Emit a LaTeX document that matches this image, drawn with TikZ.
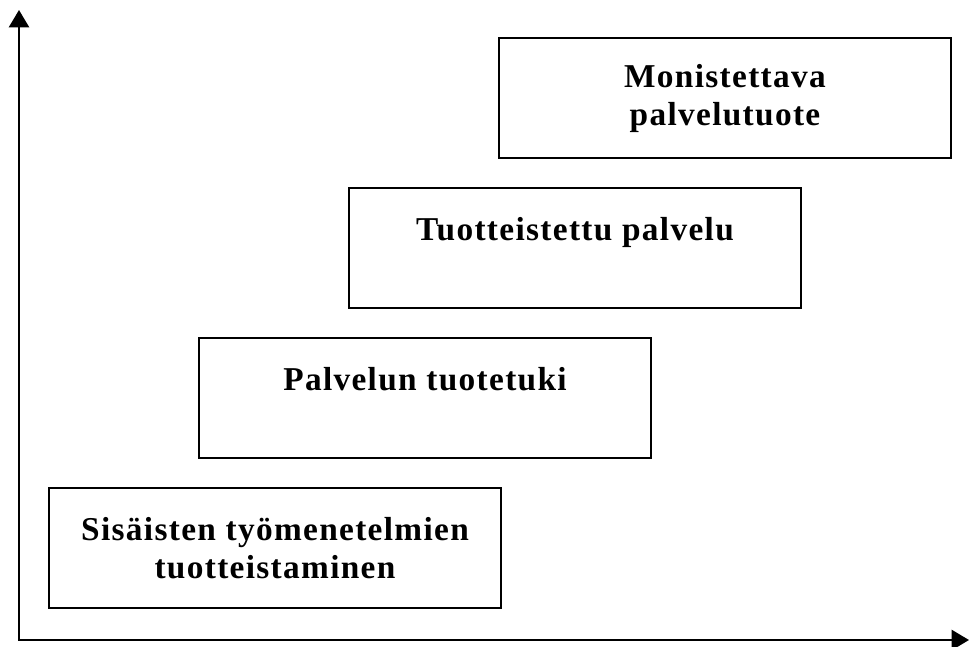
\documentclass[tikz,border=0pt]{standalone}
\usepackage{fontspec}
\setmainfont{Liberation Serif}[LetterSpace=4]
\usetikzlibrary{arrows.meta}

\tikzset{
  stage/.style={draw, line width=1.5pt, minimum width=339pt, minimum height=90pt,
    inner sep=0pt, align=center, font=\bfseries\fontsize{25}{28.5}\selectfont},
  axis/.style={line width=1.8pt, line join=miter,
    {Triangle[length=13pt,width=15pt]}-{Triangle[length=13pt,width=15pt]}}
}

\begin{document}
\begin{tikzpicture}[x=0.75pt,y=0.75pt,yscale=-1,xscale=1]
\useasboundingbox (0,0) rectangle (969,646);

%Axes
\coordinate (ytop) at (19,10);
\coordinate (origin) at (19,640);
\coordinate (xend) at (969,640);
\draw [axis] (ytop) -- (origin) -- (xend);

%Stages
\node [stage] (monistettava) at (725,98) {Monistettava\\palvelutuote};
\node [stage] (tuotteistettu) at (575,248) {Tuotteistettu palvelu\\~};
\node [stage] (tuotetuki) at (425,398) {Palvelun tuotetuki\\~};
\node [stage] (sisaiset) at (275,548) {Sisäisten työmenetelmien\\tuotteistaminen};

\end{tikzpicture}
\end{document}
